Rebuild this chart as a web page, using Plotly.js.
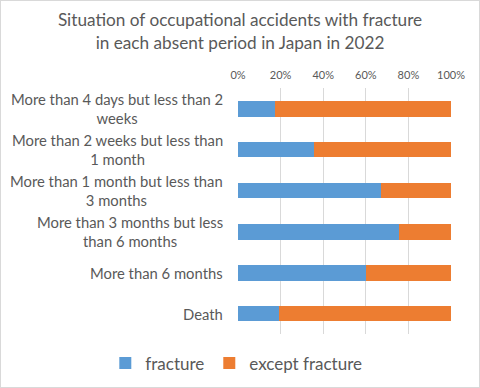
<!DOCTYPE html>
<html><head><meta charset="utf-8">
<script src="https://cdn.plot.ly/plotly-3.0.1.min.js"></script>
<style>
html,body{margin:0;padding:0;background:#fff;}
#chart{width:480px;height:388px;box-sizing:border-box;border:1px solid #d9d9d9;}
</style></head>
<body><div id="chart"></div>
<script>
var categories = [
  "More than 4 days but less than 2 weeks",
  "More than 2 weeks but less than 1 month",
  "More than 1 month but less than 3 months",
  "More than 3 months but less than 6 months",
  "More than 6 months",
  "Death"
];
var tickLabels = [
  "More than 4 days but less than 2<br>weeks",
  "More than 2 weeks but less than<br>1 month",
  "More than 1 month but less than<br>3 months",
  "More than 3 months but less<br>than 6 months",
  "More than 6 months",
  "Death"
];
var fracture = [0.175, 0.355, 0.673, 0.758, 0.600, 0.194];
var exceptFracture = fracture.map(function(v){ return 1 - v; });
var xTickVals = [0, 0.2, 0.4, 0.6, 0.8, 1.0];
var xTickText = ["0%", "20%", "40%", "60%", "80%", "100%"];

var grey = "#595959";
var fontFam = "Lato, 'Open Sans', sans-serif";

var traces = [
  {type:"bar", orientation:"h", name:"fracture", y:categories, x:fracture,
   marker:{color:"#5b9bd5"}, hoverinfo:"x+y"},
  {type:"bar", orientation:"h", name:"except fracture", y:categories, x:exceptFracture,
   marker:{color:"#ed7d31"}, hoverinfo:"x+y"}
];

var annotations = categories.map(function(c, i){
  return {xref:"paper", yref:"y", x:-0.06, y:c, xanchor:"right", yanchor:"middle",
          text:tickLabels[i], showarrow:false, align:"center",
          font:{family:fontFam, size:14.8, color:grey}};
});

var layout = {
  width:478, height:386,
  margin:{l:237, r:28, t:87, b:52.5, autoexpand:false},
  paper_bgcolor:"#fff", plot_bgcolor:"#fff",
  barmode:"stack", bargap:0.61,
  title:{text:"Situation of occupational accidents with fracture<br>in each absent period in Japan in 2022",
         font:{family:fontFam, size:17.2, color:grey}, x:0.5, xanchor:"center", y:0.934, yanchor:"top"},
  xaxis:{side:"top", range:[0,1], tickvals:xTickVals, ticktext:xTickText,
         showgrid:true, gridcolor:"#d9d9d9", gridwidth:1, zeroline:false,
         showline:false, ticks:"", ticklabelstandoff:6, tickfont:{family:fontFam, size:11, color:grey}, fixedrange:true},
  yaxis:{autorange:"reversed", showticklabels:false, ticks:"", showgrid:false,
         showline:false, zeroline:false, fixedrange:true},
  legend:{orientation:"h", xref:"paper", x:-0.623, xanchor:"left", yref:"paper", y:-0.12, yanchor:"middle",
          font:{family:fontFam, size:17, color:grey}, traceorder:"normal", itemwidth:30},
  annotations:annotations,
  showlegend:true
};

Plotly.newPlot("chart", traces, layout, {displayModeBar:false, staticPlot:true});
</script></body></html>
